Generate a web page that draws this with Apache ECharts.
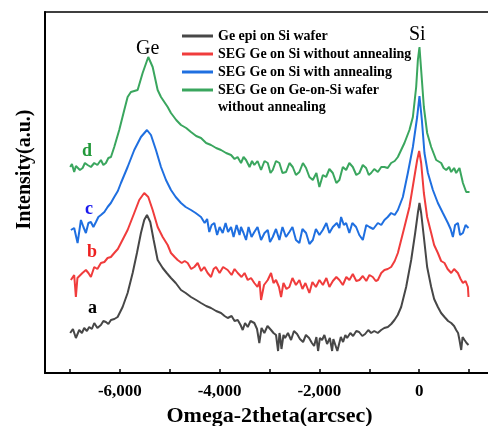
<!DOCTYPE html>
<html><head><meta charset="utf-8">
<script src="https://cdn.jsdelivr.net/npm/echarts@6/dist/echarts.min.js"></script>
<style>html,body{margin:0;padding:0;background:#fff}#c{width:488px;height:426px}</style>
</head><body><div id="c"></div>
<script>
const seriesNames = ["Ge epi on Si wafer","SEG Ge on Si without annealing","SEG Ge on Si with annealing","SEG Ge on Ge-on-Si wafer without annealing"];
const legendLines = ["Ge epi on Si wafer","SEG Ge on Si without annealing","SEG Ge on Si with annealing","SEG Ge on Ge-on-Si wafer"];
const legendExtraLine = "without annealing";
const curveLabels = ["a","b","c","d"];
const colors = ["#474747","#f03c3c","#1f6fe0","#3aa65e"];
const labelColors = ["#000000","#ee2020","#1a1aee","#22993a"];
const xLabelValues = [-6000,-4000,-2000,0];
const xTickValues = [-7000,-6000,-5000,-4000,-3000,-2000,-1000,0,1000];

const dataA = [[-6995,40],[-6940,44],[-6881,35],[-6814,43],[-6760,40],[-6714,45],[-6660,42],[-6614,46],[-6560,44],[-6513,50],[-6450,45],[-6379,48],[-6330,52],[-6279,51],[-6230,49],[-6178,53],[-6110,54],[-6044,56],[-5944,66],[-5844,80],[-5743,100],[-5657,120],[-5577,140],[-5511,153],[-5456,158],[-5390,151],[-5322,133],[-5242,113],[-5141,105],[-5060,100],[-4975,95],[-4880,90],[-4774,83],[-4680,80],[-4574,76],[-4470,73],[-4373,70],[-4270,67],[-4172,65],[-4070,62],[-3972,60],[-3900,57],[-3838,55],[-3760,57],[-3700,52],[-3637,53],[-3580,48],[-3537,43],[-3490,50],[-3436,46],[-3380,52],[-3304,50],[-3250,44],[-3204,30],[-3160,45],[-3103,40],[-3040,47],[-2969,43],[-2920,40],[-2869,38],[-2828,22],[-2800,40],[-2788,37],[-2760,24],[-2748,23],[-2720,38],[-2688,35],[-2630,40],[-2568,33],[-2510,42],[-2447,39],[-2390,34],[-2327,31],[-2270,38],[-2207,35],[-2150,30],[-2106,27],[-2060,36],[-2026,22],[-1990,35],[-1946,33],[-1900,38],[-1846,29],[-1790,35],[-1745,22],[-1720,34],[-1685,33],[-1640,22],[-1605,23],[-1570,36],[-1525,31],[-1480,38],[-1444,35],[-1380,40],[-1324,37],[-1260,42],[-1204,41],[-1140,37],[-1083,39],[-1020,43],[-963,40],[-900,42],[-830,40],[-762,43],[-700,45],[-628,46],[-560,49],[-495,53],[-430,58],[-361,66],[-261,86],[-160,113],[-80,140],[-26,160],[6,170],[40,160],[94,136],[160,106],[241,86],[300,74],[375,66],[440,60],[508,56],[580,52],[642,50],[700,47],[742,43],[780,40],[808,33],[843,23],[870,36],[909,33],[950,30],[989,28]];
const dataB = [[-6981,93],[-6915,98],[-6881,76],[-6850,95],[-6814,96],[-6750,100],[-6680,103],[-6630,100],[-6580,96],[-6513,106],[-6450,104],[-6379,110],[-6310,111],[-6245,115],[-6180,116],[-6112,120],[-6040,124],[-5978,130],[-5844,143],[-5711,160],[-5611,173],[-5511,180],[-5430,176],[-5342,163],[-5242,146],[-5141,136],[-5041,128],[-4975,120],[-4900,116],[-4841,113],[-4760,110],[-4700,112],[-4640,110],[-4570,104],[-4507,106],[-4440,110],[-4370,102],[-4307,106],[-4240,100],[-4172,96],[-4120,104],[-4072,106],[-4000,100],[-3930,106],[-3838,103],[-3760,98],[-3700,104],[-3637,100],[-3560,96],[-3500,100],[-3436,93],[-3370,95],[-3304,90],[-3240,86],[-3200,92],[-3169,73],[-3110,88],[-3035,93],[-2969,100],[-2920,90],[-2869,93],[-2810,86],[-2768,76],[-2720,90],[-2660,84],[-2602,86],[-2540,95],[-2470,88],[-2401,93],[-2340,84],[-2280,90],[-2201,80],[-2140,91],[-2070,86],[-2000,93],[-1930,88],[-1860,95],[-1799,86],[-1730,92],[-1660,96],[-1599,93],[-1530,88],[-1460,96],[-1398,93],[-1330,99],[-1260,92],[-1198,93],[-1130,97],[-1060,92],[-997,98],[-930,96],[-870,92],[-828,93],[-760,100],[-696,103],[-630,104],[-562,106],[-490,112],[-427,120],[-295,146],[-195,166],[-106,193],[-40,213],[0,222],[40,210],[94,180],[160,156],[241,140],[300,128],[375,120],[440,112],[508,110],[570,104],[642,100],[700,104],[776,100],[830,94],[877,90],[930,92],[977,86],[989,76]];
const dataC = [[-6981,143],[-6915,145],[-6847,130],[-6780,153],[-6730,146],[-6680,140],[-6630,150],[-6580,151],[-6530,146],[-6479,151],[-6430,156],[-6379,158],[-6310,161],[-6245,166],[-6180,170],[-6112,176],[-6040,182],[-5978,190],[-5844,206],[-5711,223],[-5577,236],[-5456,243],[-5376,238],[-5276,223],[-5175,206],[-5075,193],[-4975,183],[-4880,176],[-4774,170],[-4680,166],[-4574,163],[-4480,160],[-4373,156],[-4300,150],[-4250,154],[-4207,141],[-4160,148],[-4106,150],[-4050,138],[-4000,146],[-3938,140],[-3880,150],[-3830,141],[-3771,146],[-3720,136],[-3660,148],[-3600,138],[-3571,146],[-3520,140],[-3470,133],[-3420,146],[-3360,136],[-3304,141],[-3240,146],[-3169,133],[-3100,140],[-3035,143],[-2990,131],[-2935,136],[-2870,144],[-2802,133],[-2740,146],[-2670,136],[-2602,141],[-2540,146],[-2470,133],[-2401,130],[-2340,144],[-2267,140],[-2200,129],[-2132,133],[-2070,144],[-2000,138],[-1932,143],[-1860,150],[-1800,140],[-1731,146],[-1650,150],[-1600,145],[-1565,156],[-1510,148],[-1464,150],[-1400,140],[-1340,150],[-1264,146],[-1200,138],[-1129,133],[-1060,148],[-997,146],[-920,144],[-828,150],[-760,148],[-696,153],[-630,156],[-562,160],[-490,158],[-427,163],[-327,176],[-227,200],[-126,226],[-40,256],[6,277],[54,253],[106,220],[175,200],[275,183],[375,170],[475,160],[576,150],[630,144],[676,136],[720,148],[776,150],[820,138],[877,140],[930,148],[989,145]];
const dataD = [[-6995,206],[-6960,209],[-6915,201],[-6880,207],[-6847,208],[-6800,203],[-6746,205],[-6700,210],[-6646,208],[-6580,206],[-6513,210],[-6450,208],[-6379,213],[-6330,208],[-6279,210],[-6230,215],[-6178,216],[-6112,226],[-6012,243],[-5911,263],[-5844,276],[-5778,281],[-5643,283],[-5543,300],[-5430,316],[-5342,306],[-5242,283],[-5175,276],[-5041,266],[-4975,260],[-4870,253],[-4774,248],[-4670,245],[-4574,241],[-4470,237],[-4373,235],[-4270,230],[-4172,228],[-4070,225],[-3972,223],[-3870,220],[-3771,218],[-3700,214],[-3640,216],[-3571,210],[-3520,216],[-3470,213],[-3400,206],[-3350,212],[-3304,208],[-3240,212],[-3169,203],[-3100,212],[-3035,210],[-2980,200],[-2935,203],[-2870,212],[-2802,210],[-2740,200],[-2668,201],[-2600,210],[-2534,206],[-2470,198],[-2401,201],[-2330,210],[-2267,205],[-2200,196],[-2132,193],[-2060,200],[-2000,186],[-1930,198],[-1866,196],[-1800,204],[-1731,200],[-1660,190],[-1599,193],[-1530,206],[-1464,203],[-1400,210],[-1330,206],[-1260,198],[-1198,200],[-1130,208],[-1063,205],[-1010,198],[-963,200],[-900,204],[-828,201],[-760,206],[-696,206],[-630,205],[-562,210],[-490,212],[-427,216],[-295,230],[-195,243],[-126,256],[-60,286],[-26,313],[6,326],[40,303],[94,266],[160,240],[241,226],[341,213],[441,210],[490,205],[542,203],[600,206],[642,201],[700,205],[742,200],[808,205],[877,190],[943,181],[1009,181]];
const allData = [dataA, dataB, dataC, dataD];

const serif = '"Liberation Serif","Times New Roman",serif';
const chart = echarts.init(document.getElementById('c'), null, {renderer:'canvas'});
chart.setOption({
  animation:false,
  backgroundColor:'#fff',
  grid:{left:45, top:12, right:-6, bottom:53, show:true, borderColor:'#000', borderWidth:1.5, outerBoundsMode:'none', containLabel:false},
  xAxis:{type:'value', min:-7500, max:1500,
    axisLine:{onZero:false, lineStyle:{color:'#000', width:2}},
    axisTick:{inside:true, length:4, customValues:xTickValues, lineStyle:{color:'#000', width:1.5}},
    axisLabel:{customValues:xLabelValues, margin:10, color:'#000', fontFamily:serif, fontWeight:'bold', fontSize:17},
    splitLine:{show:false},
    name:'Omega-2theta(arcsec)', nameLocation:'middle', nameGap:31,
    nameTextStyle:{color:'#000', fontFamily:serif, fontWeight:'bold', fontSize:22}
  },
  yAxis:{type:'value', min:0, max:361,
    axisLine:{show:true, onZero:false, lineStyle:{color:'#000', width:2}},
    axisTick:{show:false}, axisLabel:{show:false}, splitLine:{show:false},
    name:'Intensity(a.u.)', nameLocation:'middle', nameGap:10, nameRotate:90,
    nameTextStyle:{color:'#000', fontFamily:serif, fontWeight:'bold', fontSize:20, padding:[0,0,0,46]}
  },
  legend:{orient:'vertical', left:182, top:29, padding:0, icon:'rect', itemWidth:31, itemHeight:3, itemGap:4,
    textStyle:{color:'#000', fontFamily:serif, fontWeight:'bold', fontSize:14},
    data:seriesNames,
    formatter:(n)=> legendLines[seriesNames.indexOf(n)]
  },
  series: allData.map((d,i)=>({
    name:seriesNames[i], type:'line', data:d, symbol:'none', showSymbol:false,
    lineStyle:{color:colors[i], width:2}, itemStyle:{color:colors[i]}
  })),
  graphic:[
    {type:'text', left:218, top:100, style:{text:legendExtraLine, fill:'#000', font:'bold 14px '+serif}},
    {type:'text', left:88, top:299, style:{text:curveLabels[0], fill:labelColors[0], font:'bold 18px '+serif}},
    {type:'text', left:87, top:243, style:{text:curveLabels[1], fill:labelColors[1], font:'bold 18px '+serif}},
    {type:'text', left:85, top:200, style:{text:curveLabels[2], fill:labelColors[2], font:'bold 18px '+serif}},
    {type:'text', left:82, top:142, style:{text:curveLabels[3], fill:labelColors[3], font:'bold 18px '+serif}},
    {type:'text', left:136, top:39, style:{text:'Ge', fill:'#000', font:'20px '+serif}},
    {type:'text', left:409, top:25, style:{text:'Si', fill:'#000', font:'20px '+serif}}
  ]
});
</script></body></html>
